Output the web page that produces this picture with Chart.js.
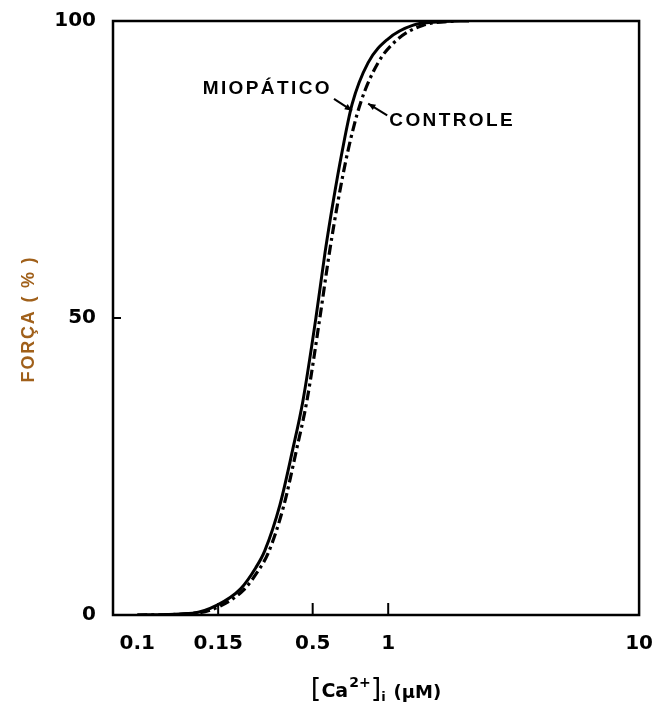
<!DOCTYPE html>
<html>
<head>
<meta charset="utf-8">
<script src="https://cdn.jsdelivr.net/npm/chart.js@4.4.1/dist/chart.umd.min.js"></script>
<style>
  html, body { margin: 0; padding: 0; background: #fff; }
  #wrap { width: 662px; height: 717px; }
</style>
</head>
<body>
<div id="wrap"><canvas id="forcaChart"></canvas></div>
<script>
// [Ca2+]i (uM) e força (%)
const concMiopatico = [0.1, 0.166, 0.209, 0.258, 0.297, 0.322, 0.37, 0.417, 0.457, 0.515, 0.56, 0.603, 0.655, 0.718, 0.832, 1.0, 1.259, 1.66, 2.1];
const forcaMiopatico = [0, 0.3, 1.7, 4.4, 8, 10.8, 18.5, 28, 36, 50, 61, 69.5, 78, 86, 93, 97, 99.3, 99.9, 100];

const concControle = [0.1, 0.17, 0.214, 0.265, 0.306, 0.333, 0.383, 0.432, 0.474, 0.534, 0.583, 0.63, 0.69, 0.773, 0.912, 1.096, 1.38, 1.85];
const forcaControle = [0, 0.3, 1.5, 4.2, 7.7, 10.5, 18.3, 28, 36, 50, 61, 69.5, 78, 86, 93, 97, 99.3, 100];

// eixo x: rótulos como aparecem na figura original
const xTickValues = [0.1, 0.21, 0.5, 1, 10];
const xTickLabels = ["0.1", "0.15", "0.5", "1", "10"];
const yTickValues = [0, 50, 100];
const yTickLabels = ["0", "50", "100"];

const toPoints = (xs, ys) => xs.map((x, i) => ({ x: x, y: ys[i] }));

function arrow(ctx, x1, y1, x2, y2) {
  const ang = Math.atan2(y2 - y1, x2 - x1);
  ctx.lineWidth = 2;
  ctx.beginPath();
  ctx.moveTo(x1, y1);
  ctx.lineTo(x2, y2);
  ctx.stroke();
  ctx.beginPath();
  ctx.moveTo(x2, y2);
  ctx.lineTo(x2 - 8 * Math.cos(ang - 0.4), y2 - 8 * Math.sin(ang - 0.4));
  ctx.lineTo(x2 - 8 * Math.cos(ang + 0.4), y2 - 8 * Math.sin(ang + 0.4));
  ctx.closePath();
  ctx.fill();
}

// moldura, marcas internas, anotações e títulos
const extras = {
  id: "extras",
  afterDraw(chart) {
    const ctx = chart.ctx;
    const a = chart.chartArea;
    const xs = chart.scales.x;
    const ys = chart.scales.y;
    ctx.save();
    ctx.strokeStyle = "#000";
    ctx.fillStyle = "#000";
    ctx.lineWidth = 2.5;
    ctx.strokeRect(a.left, a.top, a.right - a.left, a.bottom - a.top);

    // marcas para dentro
    ctx.lineWidth = 2;
    xTickValues.slice(1, 4).forEach(v => {
      const px = xs.getPixelForValue(v);
      ctx.beginPath();
      ctx.moveTo(px, a.bottom);
      ctx.lineTo(px, a.bottom - 12);
      ctx.stroke();
    });
    const py50 = ys.getPixelForValue(50);
    ctx.beginPath();
    ctx.moveTo(a.left, py50);
    ctx.lineTo(a.left + 8, py50);
    ctx.stroke();

    // rótulos das curvas
    ctx.font = "bold 19px 'Liberation Sans', Arial, sans-serif";
    ctx.letterSpacing = "2.4px";
    ctx.textBaseline = "middle";
    ctx.textAlign = "right";
    ctx.fillText("MIOPÁTICO", xs.getPixelForValue(0.586) + 2, ys.getPixelForValue(88.6));
    ctx.textAlign = "left";
    ctx.fillText("CONTROLE", xs.getPixelForValue(1.01), ys.getPixelForValue(83.2));
    ctx.letterSpacing = "0px";

    arrow(ctx, xs.getPixelForValue(0.608), ys.getPixelForValue(86.9), xs.getPixelForValue(0.718), ys.getPixelForValue(84.9));
    arrow(ctx, xs.getPixelForValue(0.991), ys.getPixelForValue(84.1), xs.getPixelForValue(0.832), ys.getPixelForValue(86.1));

    // título do eixo y
    ctx.save();
    ctx.translate(29, (a.top + a.bottom) / 2 + 1);
    ctx.rotate(-Math.PI / 2);
    ctx.textAlign = "center";
    ctx.fillStyle = "#a0601a";
    ctx.font = "bold 18px 'Liberation Sans', Arial, sans-serif";
    ctx.letterSpacing = "1.8px";
    ctx.fillText("FORÇA ( % )", 0, 0);
    ctx.restore();

    // título do eixo x: [Ca2+]i (uM)
    const parts = [
      { t: "[", f: "27px 'DejaVu Sans', sans-serif", dy: 0, gap: 0 },
      { t: "Ca", f: "bold 19px 'DejaVu Sans', sans-serif", dy: 0, gap: 1 },
      { t: "2+", f: "bold 14px 'DejaVu Sans', sans-serif", dy: -10, gap: 0 },
      { t: "]", f: "27px 'DejaVu Sans', sans-serif", dy: 0, gap: 0 },
      { t: "i", f: "bold 13px 'DejaVu Sans', sans-serif", dy: 4, gap: 8 },
      { t: "(μM)", f: "bold 18px 'DejaVu Sans', sans-serif", dy: 1, gap: 0 }
    ];
    let total = 0;
    parts.forEach(p => { ctx.font = p.f; p.w = ctx.measureText(p.t).width; total += p.w + p.gap; });
    let x = (a.left + a.right) / 2 - total / 2;
    const base = 697;
    ctx.textAlign = "left";
    ctx.textBaseline = "alphabetic";
    parts.forEach(p => {
      ctx.font = p.f;
      ctx.fillText(p.t, x, base + p.dy);
      x += p.w + p.gap;
    });
    ctx.restore();
  }
};

const ctx = document.getElementById("forcaChart").getContext("2d");
new Chart(ctx, {
  type: "line",
  data: {
    datasets: [
      {
        label: "MIOPÁTICO",
        data: toPoints(concMiopatico, forcaMiopatico),
        borderColor: "#000",
        borderWidth: 3,
        pointRadius: 0,
        fill: false,
        cubicInterpolationMode: "monotone"
      },
      {
        label: "CONTROLE",
        data: toPoints(concControle, forcaControle),
        borderColor: "#000",
        borderWidth: 3.2,
        borderDash: [10, 4, 3, 4],
        pointRadius: 0,
        fill: false,
        cubicInterpolationMode: "monotone"
      }
    ]
  },
  options: {
    responsive: true,
    maintainAspectRatio: false,
    animation: false,
    layout: { padding: { top: 18, right: 15, left: 0, bottom: 0 } },
    plugins: { legend: { display: false }, tooltip: { enabled: false } },
    scales: {
      x: {
        type: "logarithmic",
        min: 0.08,
        max: 10,
        afterBuildTicks: s => { s.ticks = xTickValues.map(v => ({ value: v })); },
        afterFit: s => { s.height = 102; },
        grid: { display: false },
        border: { display: false },
        ticks: {
          autoSkip: false,
          maxRotation: 0,
          color: "#000",
          padding: 9,
          font: { family: "DejaVu Sans", size: 20, weight: "bold" },
          callback: v => xTickLabels[xTickValues.indexOf(v)]
        }
      },
      y: {
        min: 0,
        max: 100,
        afterBuildTicks: s => { s.ticks = yTickValues.map(v => ({ value: v })); },
        afterFit: s => { s.width = 113; },
        grid: { display: false },
        border: { display: false },
        ticks: {
          color: "#000",
          padding: 9,
          font: { family: "DejaVu Sans", size: 20, weight: "bold" },
          callback: v => yTickLabels[yTickValues.indexOf(v)]
        }
      }
    }
  },
  plugins: [extras]
});
</script>
</body>
</html>
